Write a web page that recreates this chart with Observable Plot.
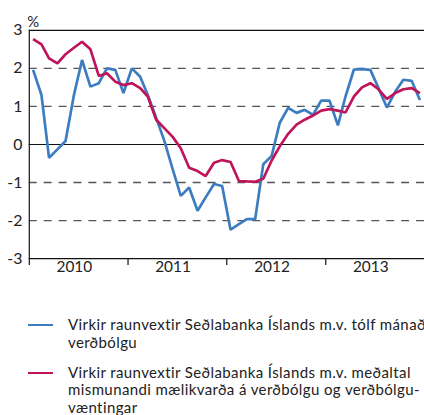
<!DOCTYPE html>
<html>
<head>
<meta charset="utf-8">
<script src="https://cdn.jsdelivr.net/npm/d3@7"></script>
<script src="https://cdn.jsdelivr.net/npm/@observablehq/plot@0.6"></script>
<style>
  html, body { margin: 0; padding: 0; background: #fff; overflow: hidden; width: 424px; height: 415px; }
  #chart svg { display: block; }
  .legend { font-family: Lato, "Open Sans", sans-serif; font-size: 15px; letter-spacing: 0.4px; color: #222; padding-top: 33px; white-space: nowrap; }
  .item { position: relative; padding-left: 68px; line-height: 17.8px; }
  .item + .item { margin-top: 12px; }
  .sw { position: absolute; left: 28px; top: 8px; width: 25px; height: 2.5px; }
</style>
</head>
<body>
<div id="chart"></div>
<div class="legend">
  <div class="item"><span class="sw" style="background:#3b7dc0"></span>Virkir raunvextir Seðlabanka Íslands m.v. tólf mánaðar<br>verðbólgu</div>
  <div class="item"><span class="sw" style="background:#c0145a"></span>Virkir raunvextir Seðlabanka Íslands m.v. meðaltal<br>mismunandi mælikvarða á verðbólgu og verðbólgu-<br>væntingar</div>
</div>
<script>
// Monthly, Jan 2010 – Dec 2013
const startYear = 2010;
const blueValues = [
  1.96, 1.30, -0.35, -0.13, 0.09, 1.30, 2.22, 1.52, 1.61, 2.00, 1.96, 1.35,
  2.00, 1.78, 1.30, 0.70, 0.10, -0.65, -1.35, -1.13, -1.74, -1.39, -1.04, -1.09,
  -2.24, -2.09, -1.96, -1.96, -0.52, -0.30, 0.57, 0.96, 0.83, 0.91, 0.78, 1.15,
  1.15, 0.50, 1.26, 1.97, 1.98, 1.96, 1.48, 0.97, 1.39, 1.70, 1.67, 1.17
];
const redValues = [
  2.77, 2.63, 2.26, 2.13, 2.37, 2.54, 2.70, 2.50, 1.80, 1.87, 1.65, 1.56,
  1.61, 1.48, 1.26, 0.65, 0.43, 0.20, -0.10, -0.61, -0.70, -0.83, -0.48, -0.41,
  -0.46, -0.96, -0.97, -0.98, -0.90, -0.42, -0.05, 0.28, 0.52, 0.65, 0.76, 0.89,
  0.93, 0.89, 0.84, 1.26, 1.50, 1.61, 1.45, 1.20, 1.35, 1.45, 1.48, 1.35
];
const years = [2010, 2011, 2012, 2013];
const yTicks = [-3, -2, -1, 0, 1, 2, 3];
const dashedTicks = [-2, -1, 1, 2];
const solidTicks = [-3, 0, 3];
const seriesNames = ["Tólf mánaða verðbólga", "Meðaltal mælikvarða"];
const colors = ["#3b7dc0", "#c0145a"];

const monthDate = i => new Date(Date.UTC(startYear, i, 15));
const data = [
  ...blueValues.map((v, i) => ({date: monthDate(i), value: v, series: seriesNames[0]})),
  ...redValues.map((v, i) => ({date: monthDate(i), value: v, series: seriesNames[1]}))
];
const yearStarts = [...years, years[years.length - 1] + 1].map(y => new Date(Date.UTC(y, 0, 1)));
const yearMids = years.map(y => ({date: new Date(Date.UTC(y, 6, 1)), label: String(y)}));

const chart = Plot.plot({
  width: 427,
  height: 285,
  marginLeft: 29,
  marginRight: 0,
  marginTop: 30,
  marginBottom: 25,
  style: {fontFamily: "Lato, 'Open Sans', sans-serif", fontSize: "15px", color: "#222", background: "#fff"},
  x: {type: "utc", domain: [yearStarts[0], yearStarts[yearStarts.length - 1]]},
  y: {domain: [-3, 3]},
  color: {domain: seriesNames, range: colors},
  marks: [
    Plot.ruleY(dashedTicks, {stroke: "#555", strokeWidth: 1.4, strokeDasharray: "8,7"}),
    Plot.ruleY(solidTicks, {stroke: "#111", strokeWidth: 1.2}),
    Plot.ruleX([yearStarts[0]], {stroke: "#111", strokeWidth: 1.2}),
    Plot.axisX({ticks: yearStarts.slice(0, 4), tickSize: 7, tickFormat: () => "", stroke: "#111", strokeWidth: 1.2}),
    Plot.text(yearMids, {x: "date", text: "label", frameAnchor: "bottom", dy: 13, dx: -4, fontSize: 15.5, fill: "#222"}),
    Plot.axisY({ticks: yTicks, tickSize: 0, tickPadding: 7, label: null, fontSize: 16, tickFormat: d => String(d)}),
    Plot.text(["%"], {frameAnchor: "top-left", dx: -2, dy: -14, fontSize: 15, fill: "#222"}),
    Plot.line(data, {x: "date", y: "value", z: "series", stroke: "series", strokeWidth: 2.7, strokeLinejoin: "miter", strokeLinecap: "butt"})
  ]
});
document.getElementById("chart").appendChild(chart);
</script>
</body>
</html>
